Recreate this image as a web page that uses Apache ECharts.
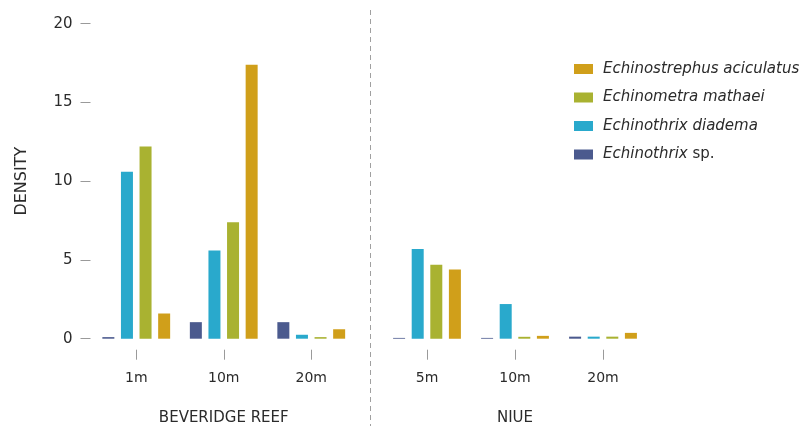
<!DOCTYPE html>
<html>
<head>
<meta charset="utf-8">
<script src="https://cdn.jsdelivr.net/npm/echarts@6/dist/echarts.min.js"></script>
<style>
html,body{margin:0;padding:0;background:#fff;}
#c{width:809px;height:426px;}
</style>
</head>
<body>
<div id="c"></div>
<script>
const reefCategories = ['1m', '10m', '20m'];
const niueCategories = ['5m', '10m', '20m'];
const seriesNames = ['Echinothrix sp.', 'Echinothrix diadema', 'Echinometra mathaei', 'Echinostrephus aciculatus'];
const reefSp = [0.1, 1.05, 1.05];
const reefDiadema = [10.6, 5.6, 0.25];
const reefMathaei = [12.2, 7.4, 0.1];
const reefAciculatus = [1.6, 17.4, 0.6];
const niueSp = [0.05, 0.05, 0.13];
const niueDiadema = [5.7, 2.2, 0.13];
const niueMathaei = [4.7, 0.12, 0.13];
const niueAciculatus = [4.4, 0.18, 0.37];
const yTicks = [0, 5, 10, 15, 20];

const colors = ['#4b5a8e', '#29a9cc', '#a9b231', '#d09f1a'];
const FONT = 'DejaVu Sans';
const TXT = '#2b2b2b';
const reefData = [reefSp, reefDiadema, reefMathaei, reefAciculatus];
const niueData = [niueSp, niueDiadema, niueMathaei, niueAciculatus];

const chart = echarts.init(document.getElementById('c'), null, {renderer: 'canvas'});

function xAxisDef(gridIndex, cats, name) {
  return {
    type: 'category', gridIndex: gridIndex, data: cats,
    axisLine: {show: false},
    axisTick: {
      show: true, alignWithLabel: true, length: 21,
      lineStyle: {color: '#9a9a9a', width: 1, type: [10, 11], dashOffset: 10}
    },
    axisLabel: {margin: 33, fontFamily: FONT, fontSize: 14, color: TXT},
    name: name, nameLocation: 'middle', nameGap: 72,
    nameTextStyle: {fontFamily: FONT, fontSize: 15, color: TXT}
  };
}
function yAxisDef(gridIndex, visible) {
  return {
    type: 'value', gridIndex: gridIndex, min: yTicks[0], max: yTicks[yTicks.length - 1], interval: 5,
    show: visible, offset: 2,
    splitLine: {show: false},
    axisLine: {show: false},
    axisTick: {show: visible, length: 10, lineStyle: {color: '#9a9a9a', width: 1}},
    axisLabel: {show: visible, margin: 18, fontFamily: FONT, fontSize: 15, color: TXT},
    name: visible ? 'DENSITY' : '', nameLocation: 'middle', nameGap: 61, nameRotate: 90,
    nameTextStyle: {fontFamily: FONT, fontSize: 16, color: TXT}
  };
}

const series = [];
[reefData, niueData].forEach(function (set, gi) {
  set.forEach(function (vals, si) {
    series.push({
      type: 'bar', name: seriesNames[si], xAxisIndex: gi, yAxisIndex: gi,
      data: vals, barWidth: 12, barGap: '55%',
      itemStyle: {color: colors[si]},
      emphasis: {disabled: true}
    });
  });
});

chart.setOption({
  animation: false,
  grid: [
    {left: 92.5, top: 23.7, width: 262.5, height: 315, containLabel: false, outerBoundsMode: 'none'},
    {left: 383, top: 23.7, width: 264, height: 315, containLabel: false, outerBoundsMode: 'none'}
  ],
  xAxis: [xAxisDef(0, reefCategories, 'BEVERIDGE REEF'), xAxisDef(1, niueCategories, 'NIUE')],
  yAxis: [yAxisDef(0, true), yAxisDef(1, false)],
  legend: {
    orient: 'vertical', left: 574, top: 61, padding: 0,
    itemWidth: 19, itemHeight: 10, itemGap: 12.5, icon: 'rect',
    data: seriesNames.slice().reverse(),
    selectedMode: false,
    formatter: function (name) {
      if (name.endsWith(' sp.')) return '{i|' + name.slice(0, -4) + '}{n| sp.}';
      return '{i|' + name + '}';
    },
    textStyle: {
      fontFamily: FONT, fontSize: 15, color: TXT, lineHeight: 16, padding: [0, 0, 0, 5],
      rich: {
        i: {fontFamily: FONT, fontSize: 15, fontStyle: 'italic', color: TXT},
        n: {fontFamily: FONT, fontSize: 15, color: TXT}
      }
    }
  },
  graphic: [{
    type: 'line', shape: {x1: 370.5, y1: 10, x2: 370.5, y2: 426},
    style: {stroke: '#a0a0a0', lineWidth: 1, lineDash: [5, 4]}
  }],
  series: series
});
</script>
</body>
</html>
